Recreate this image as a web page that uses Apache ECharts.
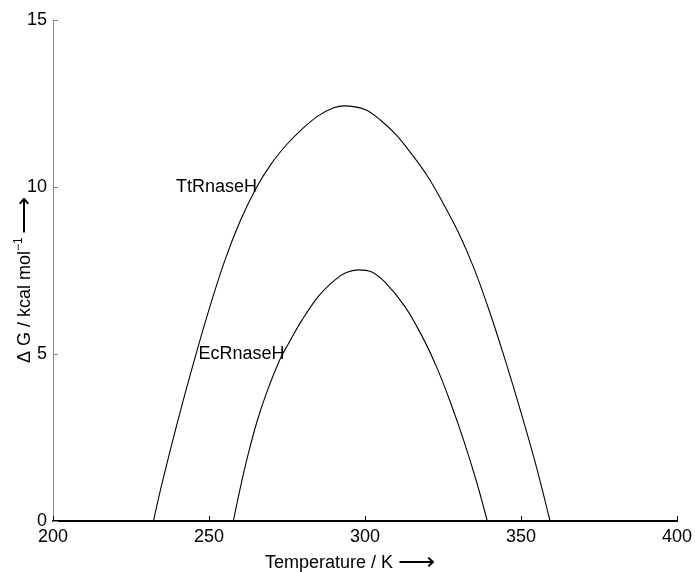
<!DOCTYPE html>
<html>
<head>
<meta charset="utf-8">
<script src="https://cdn.jsdelivr.net/npm/echarts@6/dist/echarts.min.js"></script>
<style>
  html, body { margin: 0; padding: 0; background: #fff; }
  #chart { width: 695px; height: 572px; }
</style>
</head>
<body>
<div id="chart"></div>
<script>
var dom = document.getElementById('chart');
var myChart = echarts.init(dom);

var ttTemp = [232.2, 235, 240, 245, 250, 255, 260, 265, 270, 275, 280, 285, 290, 293.3, 300, 305, 310, 315, 320, 325, 330, 335, 340, 345, 350, 355, 359.3];
var ttDG = [0, 1.15, 3.0, 4.72, 6.33, 7.78, 8.98, 9.95, 10.7, 11.28, 11.75, 12.13, 12.37, 12.43, 12.32, 12.0, 11.56, 10.98, 10.33, 9.52, 8.63, 7.55, 6.25, 4.8, 3.25, 1.6, 0];

var ecTemp = [257.8, 260, 262.5, 265.3, 268.5, 272.8, 275.4, 279.7, 285, 290.4, 294, 298, 302, 306.4, 312.8, 318.2, 323, 327.2, 331.5, 335.8, 339.2];
var ecDG = [0, 0.98, 1.98, 2.95, 3.85, 4.85, 5.3, 6.0, 6.72, 7.22, 7.44, 7.52, 7.46, 7.15, 6.42, 5.55, 4.6, 3.6, 2.45, 1.16, 0];

var xTicks = [200, 250, 300, 350, 400];
var yTicks = [0, 5, 10, 15];

function pairs(xs, ys) {
  return xs.map(function (x, i) { return [x, ys[i]]; });
}

var font = '"Liberation Sans", Arial, Helvetica, sans-serif';

function curve(name, xs, ys, labelAt) {
  return {
    name: name,
    type: 'line',
    data: pairs(xs, ys),
    showSymbol: false,
    smooth: 0.35,
    silent: true,
    lineStyle: { color: '#000', width: 1.1 },
    markPoint: {
      symbol: 'circle',
      symbolSize: 0,
      silent: true,
      data: [{
        coord: labelAt,
        label: {
          show: true,
          formatter: name,
          position: 'right',
          distance: 0,
          color: '#000',
          fontSize: 18,
          fontFamily: font
        }
      }]
    }
  };
}

option = {
  backgroundColor: '#fff',
  animation: false,
  grid: { left: 53, right: 18, top: 20, bottom: 51 },
  xAxis: {
    type: 'value',
    min: xTicks[0],
    max: xTicks[xTicks.length - 1],
    interval: 50,
    axisLine: { lineStyle: { color: '#000', width: 2 } },
    axisTick: { inside: true, length: 5, lineStyle: { color: '#000', width: 1 } },
    axisLabel: { color: '#000', fontSize: 18, fontFamily: font, margin: 7 },
    splitLine: { show: false }
  },
  yAxis: {
    type: 'value',
    min: yTicks[0],
    max: yTicks[yTicks.length - 1],
    interval: 5,
    axisLine: { show: true, lineStyle: { color: '#888', width: 1 } },
    axisTick: { show: true, inside: true, length: 5, lineStyle: { color: '#888', width: 1 } },
    axisLabel: { color: '#000', fontSize: 18, fontFamily: font, margin: 6 },
    splitLine: { show: false }
  },
  graphic: [
    {
      type: 'text',
      x: 265,
      y: 563,
      style: {
        text: '{n|Temperature / K }{a|\u27F6}',
        verticalAlign: 'middle',
        rich: {
          n: { fill: '#000', fontSize: 18, fontFamily: font },
          a: { fill: '#000', fontSize: 26, fontFamily: font }
        }
      }
    },
    {
      type: 'text',
      x: 25,
      y: 280,
      rotation: Math.PI / 2,
      style: {
        text: '{n|\u0394 G / kcal mol}{s|\u22121} {a|\u27F6}',
        align: 'center',
        verticalAlign: 'middle',
        rich: {
          n: { fill: '#000', fontSize: 18, fontFamily: font },
          s: { fill: '#000', fontSize: 12, fontFamily: font, padding: [0, 0, 12, 0] },
          a: { fill: '#000', fontSize: 26, fontFamily: font }
        }
      }
    }
  ],
  series: [
    curve('TtRnaseH', ttTemp, ttDG, [239.4, 10]),
    curve('EcRnaseH', ecTemp, ecDG, [246.6, 5])
  ]
};

myChart.setOption(option);
window.onresize = myChart.resize;
</script>
</body>
</html>
